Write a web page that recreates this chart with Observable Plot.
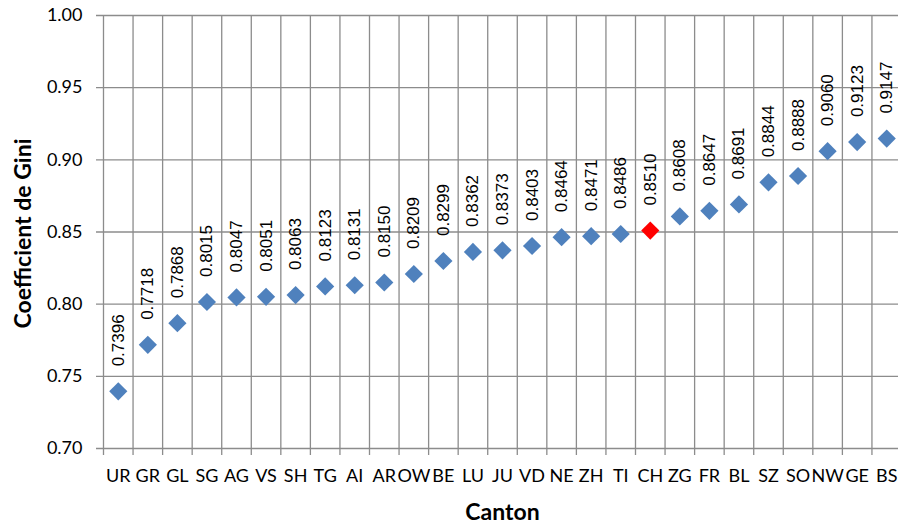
<!DOCTYPE html>
<html>
<head>
<meta charset="utf-8">
<script src="https://cdn.jsdelivr.net/npm/d3@7"></script>
<script src="https://cdn.jsdelivr.net/npm/@observablehq/plot@0.6"></script>
<style>
  html, body { margin: 0; padding: 0; background: #fff; overflow: hidden; }
</style>
</head>
<body>
<div id="chart"></div>
<script>
const cantons = ["UR","GR","GL","SG","AG","VS","SH","TG","AI","AR","OW","BE","LU","JU","VD","NE","ZH","TI","CH","ZG","FR","BL","SZ","SO","NW","GE","BS"];
const giniValues = [0.7396,0.7718,0.7868,0.8015,0.8047,0.8051,0.8063,0.8123,0.8131,0.8150,0.8209,0.8299,0.8362,0.8373,0.8403,0.8464,0.8471,0.8486,0.8510,0.8608,0.8647,0.8691,0.8844,0.8888,0.9060,0.9123,0.9147];
const highlight = "CH";
const yTicks = [0.70,0.75,0.80,0.85,0.90,0.95,1.00];
const xTitle = "Canton";
const yTitle = "Coefficient de Gini";

const data = cantons.map((c, i) => ({canton: c, gini: giniValues[i]}));

const W = 898, H = 524;
// frame extends a few px beyond the plot area so grid rules overhang as ticks
const mL = 96, mT = 15, mB = 69;
const xRange = [103, 901];
const yRange = [448, 15];
const bw = (xRange[1] - xRange[0]) / cantons.length;
const gridColor = "#8c8c8c";
const blue = "#4F81BD", red = "#FF0000";
const fmt = d3.format(".4f");

const chart = Plot.plot({
  width: W,
  height: H,
  marginLeft: mL,
  marginRight: 0,
  marginTop: mT,
  marginBottom: mB,
  style: {fontFamily: "Lato, 'Open Sans', sans-serif", fontSize: "18px", color: "#000", background: "#fff"},
  x: {type: "band", domain: cantons, range: xRange, padding: 0, round: false, tickSize: 0, tickPadding: 14, label: null},
  y: {domain: [0.70, 1.00], range: yRange, ticks: yTicks, tickFormat: d3.format(".2f"), tickSize: 0, tickPadding: 14, label: null},
  marks: [
    Plot.ruleY(yTicks, {y: d => d, stroke: gridColor, strokeWidth: 1.3}),
    Plot.ruleX(cantons, {x: d => d, dx: -bw / 2, stroke: gridColor, strokeWidth: 1.3}),
    Plot.dot(data.filter(d => d.canton !== highlight), {x: "canton", y: "gini", symbol: "diamond2", r: 8.2, fill: blue, stroke: "none"}),
    Plot.dot(data.filter(d => d.canton === highlight), {x: "canton", y: "gini", symbol: "diamond2", r: 8.2, fill: red, stroke: "none"}),
    Plot.text(data, {x: "canton", y: "gini", text: d => fmt(d.gini), rotate: -90, textAnchor: "start", dy: -25,
      fontSize: 17, fontFamily: "'Liberation Sans', Arial, sans-serif", fill: "#000"}),
    Plot.text([xTitle], {text: d => d, frameAnchor: "bottom", textAnchor: "middle", lineAnchor: "middle", dx: 5, dy: 57, fontSize: 23, fontWeight: "bold", fill: "#000"}),
    Plot.text([yTitle], {text: d => d, frameAnchor: "left", textAnchor: "middle", lineAnchor: "middle", dx: -73, dy: -2, rotate: -90, fontSize: 23, fontWeight: "bold", fill: "#000"})
  ]
});
document.getElementById("chart").appendChild(chart);
</script>
</body>
</html>
